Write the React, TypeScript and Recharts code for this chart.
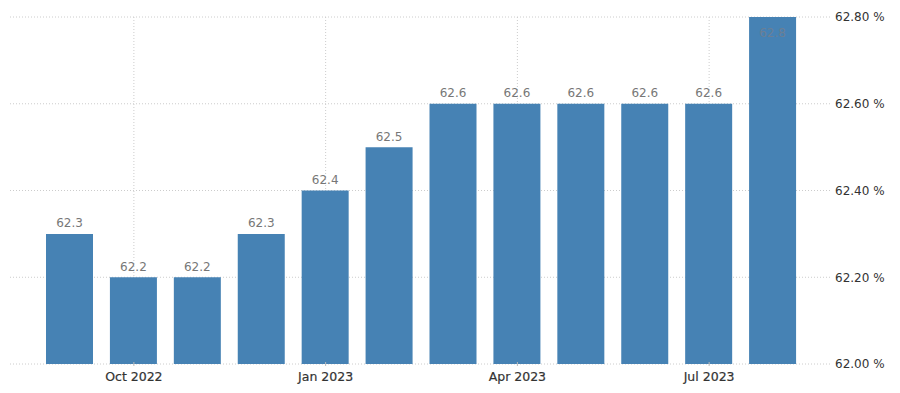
import React from "react";
import { BarChart, Bar, XAxis, YAxis, CartesianGrid, LabelList } from "recharts";

const months = ["Sep 2022", "Oct 2022", "Nov 2022", "Dec 2022", "Jan 2023", "Feb 2023", "Mar 2023", "Apr 2023", "May 2023", "Jun 2023", "Jul 2023", "Aug 2023"];
const values = [62.3, 62.2, 62.2, 62.3, 62.4, 62.5, 62.6, 62.6, 62.6, 62.6, 62.6, 62.8];
const shownMonths = ["Oct 2022", "Jan 2023", "Apr 2023", "Jul 2023"];
const yTicks = [62.0, 62.2, 62.4, 62.6, 62.8];

const data = months.map((m, i) => ({ month: m, value: values[i] }));

const PLOT_TOP = 17;

const BarLabel = (props: any) => {
  const { x, y, width, value } = props;
  const inside = y - 12 < PLOT_TOP;
  const ly = inside ? y + 16 : y - 10;
  return (
    <text
      x={x + width / 2}
      y={ly}
      textAnchor="middle"
      dominantBaseline="middle"
      fill={inside ? "#6b7f95" : "#777"}
      fontSize={12}
      fontFamily="DejaVu Sans"
    >
      {Number(value).toFixed(1)}
    </text>
  );
};

const XTick = (props: any) => {
  const { x, y, payload } = props;
  if (!shownMonths.includes(payload.value)) return null;
  return (
    <g>
      <line x1={x} x2={x} y1={y - 4} y2={y} stroke="#bbb" />
      <text x={x} y={y + 11} textAnchor="middle" dominantBaseline="middle" fill="#333" fontSize={12.5} fontFamily="DejaVu Sans" fontWeight={500} stroke="#333" strokeWidth={0.2}>
        {payload.value}
      </text>
    </g>
  );
};

export default function App() {
  return (
    <div style={{ position: "absolute", left: 0, top: 0, width: 900, height: 393, background: "#fff" }}>
      <BarChart width={900} height={393} data={data} margin={{ top: PLOT_TOP, right: 0, left: 10, bottom: 0 }}>
        <CartesianGrid stroke="#ccc" strokeDasharray="1 2" syncWithTicks />
        <XAxis
          dataKey="month"
          ticks={shownMonths}
          interval={0}
          height={29}
          axisLine={false}
          tickLine={false}
          tickSize={0}
          padding={{ left: 28, right: 25 }}
          tick={<XTick />}
        />
        <YAxis
          orientation="right"
          domain={[62, 62.8]}
          ticks={yTicks}
          allowDataOverflow
          width={70}
          axisLine={false}
          tickLine={false}
          tickSize={0}
          tickMargin={5}
          tick={{ fill: "#333", fontSize: 12, fontFamily: "DejaVu Sans" }}
          tickFormatter={(v: number) => `${v.toFixed(2)} %`}
        />
        <Bar dataKey="value" fill="#4682b4" barSize={47} isAnimationActive={false}>
          <LabelList dataKey="value" content={<BarLabel />} />
        </Bar>
      </BarChart>
    </div>
  );
}
